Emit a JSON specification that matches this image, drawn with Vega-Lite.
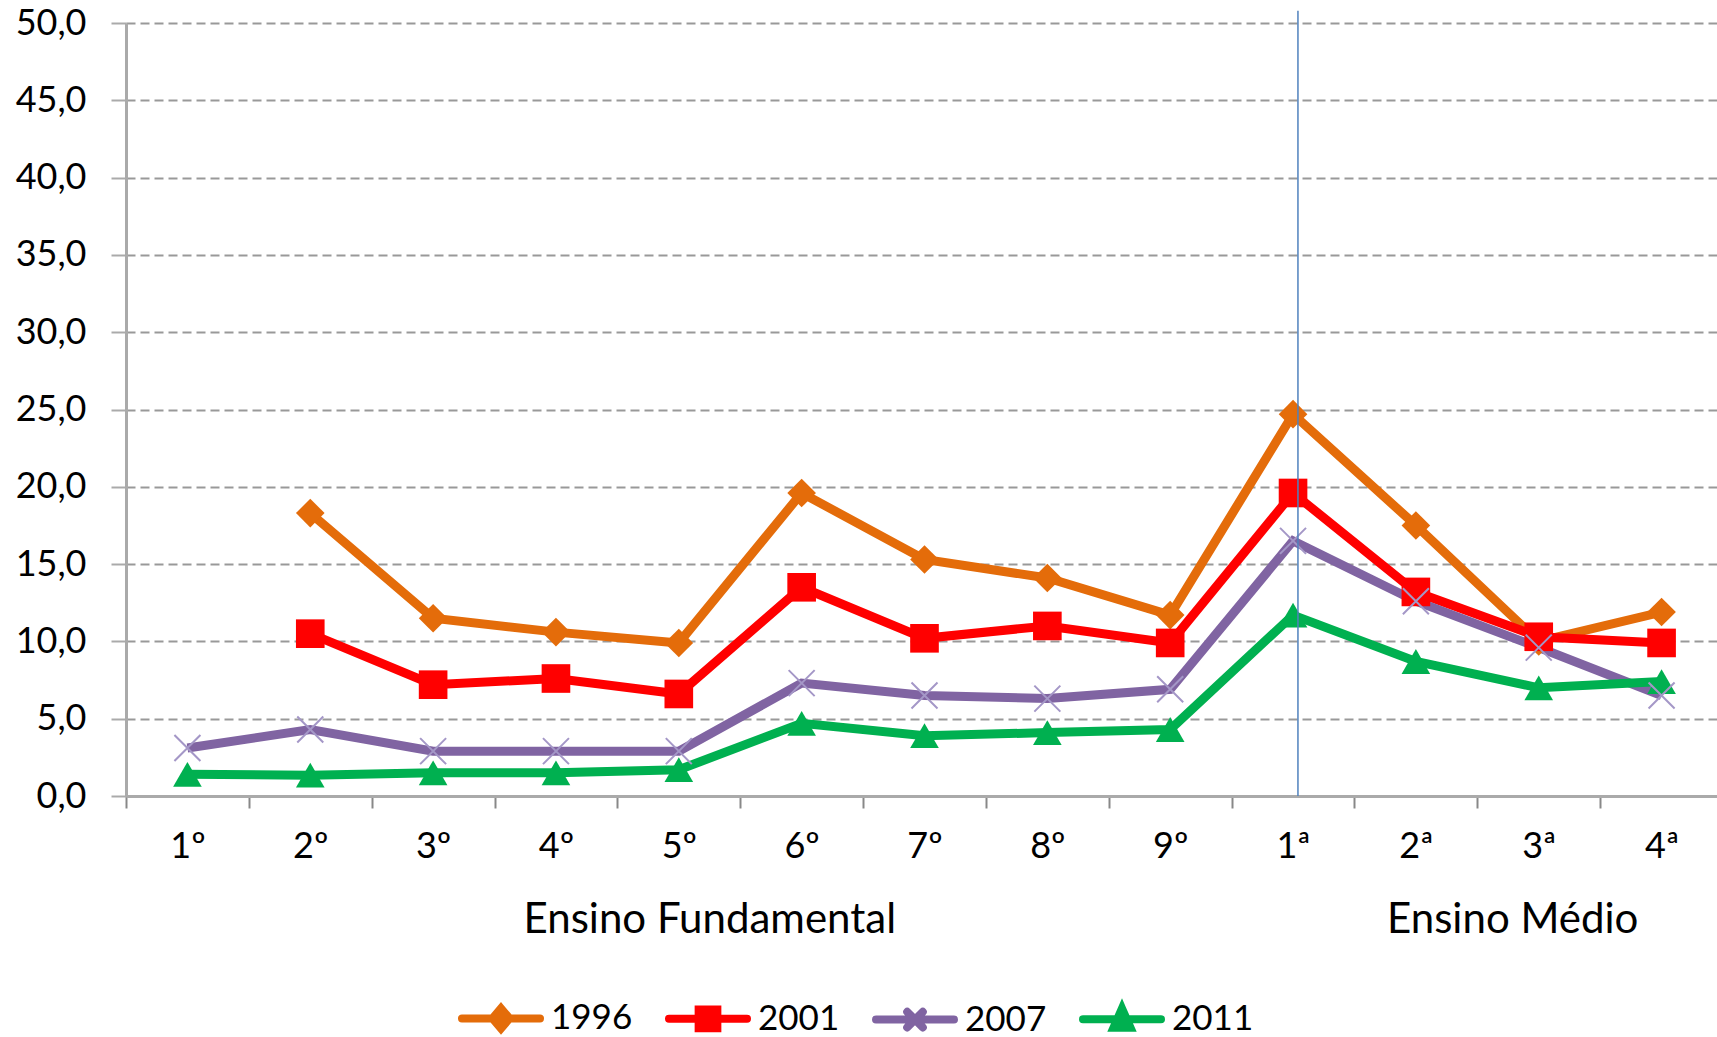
{
  "$schema": "https://vega.github.io/schema/vega-lite/v6.json",
  "width": 1591,
  "height": 773,
  "autosize": "none",
  "padding": {"left": 126, "top": 23, "right": 0, "bottom": 241},
  "background": "white",
  "config": {
    "font": "Lato",
    "view": {"stroke": null},
    "axis": {"labelFont": "Lato", "labelColor": "#000", "labelFontSize": 36},
    "legend": {"labelFont": "Lato"}
  },
  "datasets": {
    "series": [
      {"grade": "2º", "year": "1996", "value": 18.3},
      {"grade": "3º", "year": "1996", "value": 11.5},
      {"grade": "4º", "year": "1996", "value": 10.6},
      {"grade": "5º", "year": "1996", "value": 9.9},
      {"grade": "6º", "year": "1996", "value": 19.6},
      {"grade": "7º", "year": "1996", "value": 15.3},
      {"grade": "8º", "year": "1996", "value": 14.1},
      {"grade": "9º", "year": "1996", "value": 11.7},
      {"grade": "1ª", "year": "1996", "value": 24.7},
      {"grade": "2ª", "year": "1996", "value": 17.5},
      {"grade": "3ª", "year": "1996", "value": 10.0},
      {"grade": "4ª", "year": "1996", "value": 11.9},
      {"grade": "2º", "year": "2001", "value": 10.5},
      {"grade": "3º", "year": "2001", "value": 7.2},
      {"grade": "4º", "year": "2001", "value": 7.6},
      {"grade": "5º", "year": "2001", "value": 6.6},
      {"grade": "6º", "year": "2001", "value": 13.5},
      {"grade": "7º", "year": "2001", "value": 10.2},
      {"grade": "8º", "year": "2001", "value": 11.0},
      {"grade": "9º", "year": "2001", "value": 9.9},
      {"grade": "1ª", "year": "2001", "value": 19.6},
      {"grade": "2ª", "year": "2001", "value": 13.2},
      {"grade": "3ª", "year": "2001", "value": 10.3},
      {"grade": "4ª", "year": "2001", "value": 9.9},
      {"grade": "1º", "year": "2007", "value": 3.1},
      {"grade": "2º", "year": "2007", "value": 4.3},
      {"grade": "3º", "year": "2007", "value": 2.9},
      {"grade": "4º", "year": "2007", "value": 2.9},
      {"grade": "5º", "year": "2007", "value": 2.9},
      {"grade": "6º", "year": "2007", "value": 7.3},
      {"grade": "7º", "year": "2007", "value": 6.5},
      {"grade": "8º", "year": "2007", "value": 6.3},
      {"grade": "9º", "year": "2007", "value": 6.9},
      {"grade": "1ª", "year": "2007", "value": 16.5},
      {"grade": "2ª", "year": "2007", "value": 12.6},
      {"grade": "3ª", "year": "2007", "value": 9.6},
      {"grade": "4ª", "year": "2007", "value": 6.5},
      {"grade": "1º", "year": "2011", "value": 1.4},
      {"grade": "2º", "year": "2011", "value": 1.35},
      {"grade": "3º", "year": "2011", "value": 1.5},
      {"grade": "4º", "year": "2011", "value": 1.5},
      {"grade": "5º", "year": "2011", "value": 1.7},
      {"grade": "6º", "year": "2011", "value": 4.7},
      {"grade": "7º", "year": "2011", "value": 3.9},
      {"grade": "8º", "year": "2011", "value": 4.1},
      {"grade": "9º", "year": "2011", "value": 4.3},
      {"grade": "1ª", "year": "2011", "value": 11.7},
      {"grade": "2ª", "year": "2011", "value": 8.7},
      {"grade": "3ª", "year": "2011", "value": 7.0},
      {"grade": "4ª", "year": "2011", "value": 7.4}
    ]
  },
  "layer": [
    {
      "data": {"name": "series"},
      "mark": {"type": "line", "strokeWidth": 9},
      "encoding": {
        "x": {
          "field": "grade", "type": "ordinal", "bandPosition": 0.5,
          "scale": {"type": "band", "domain": ["1º","2º","3º","4º","5º","6º","7º","8º","9º","1ª","2ª","3ª","4ª"], "range": [0, 1597], "paddingInner": 0, "paddingOuter": 0},
          "axis": {"title": null, "tickBand": "extent", "domainColor": "#aaaaaa", "domainWidth": 3, "tickColor": "#888888", "tickWidth": 2, "tickSize": 12, "labelPadding": 21, "labelAngle": 0, "grid": false, "labelFontSize": 36, "labelColor": "#000"}
        },
        "y": {
          "field": "value", "type": "quantitative",
          "scale": {"domain": [0, 50], "nice": false},
          "axis": {"title": null, "values": [0,5,10,15,20,25,30,35,40,45,50], "labelExpr": "replace(format(datum.value, '.1f'), '.', ',')", "domainColor": "#aaaaaa", "domainWidth": 3, "tickColor": "#aaaaaa", "tickWidth": 2, "tickSize": 15, "labelPadding": 25, "grid": true, "gridColor": "#999999", "gridDash": [9, 5], "gridWidth": 2, "labelFontSize": 36, "labelColor": "#000"}
        },
        "color": {
          "field": "year", "type": "nominal",
          "scale": {"domain": ["1996","2001","2007","2011"], "range": ["#E46C0A","#FF0000","#8064A2","#00B050"]},
          "legend": {
            "title": null, "orient": "none", "legendX": 332, "legendY": 952, "direction": "horizontal",
            "symbolSize": 6084, "symbolStrokeWidth": 8, "labelFontSize": 35, "labelOffset": 7, "columnPadding": 20, "padding": 0, "labelColor": "#000",
            "encode": {
              "symbols": {
                "update": {
                  "shape": {"signal": "datum.value == '1996' ? 'M-1,0H1M0,-0.26L0.22,0L0,0.26L-0.22,0Z' : datum.value == '2001' ? 'M-1,0H1M-0.24,-0.24H0.24V0.24H-0.24Z' : datum.value == '2011' ? 'M-1,0H1M0,-0.28L0.22,0.22L-0.22,0.22Z' : 'M-1,0H1M-0.2,-0.2L0.2,0.2M-0.2,0.2L0.2,-0.2'"},
                  "fill": {"scale": "color", "field": "value"},
                  "stroke": {"scale": "color", "field": "value"},
                  "strokeWidth": {"value": 8},
                  "strokeCap": {"value": "round"},
                  "opacity": {"value": 1}
                }
              }
            }
          }
        },
        "order": {"value": null}
      }
    },
    {
      "data": {"name": "series"},
      "transform": [{"filter": "datum.year != '2007'"}],
      "mark": {"type": "point", "filled": true, "size": 820, "opacity": 1, "strokeWidth": 1},
      "encoding": {
        "x": {"field": "grade", "type": "ordinal", "bandPosition": 0.5},
        "y": {"field": "value", "type": "quantitative"},
        "color": {"field": "year", "type": "nominal"},
        "shape": {"field": "year", "type": "nominal", "scale": {"domain": ["1996","2001","2011"], "range": ["diamond","square","triangle-up"]}, "legend": null}
      }
    },
    {
      "data": {"name": "series"},
      "transform": [{"filter": "datum.year == '2007'"}],
      "mark": {"type": "point", "shape": "M-1,-1L1,1M-1,1L1,-1", "size": 676, "filled": false, "stroke": "#a497c7", "strokeWidth": 2, "opacity": 1},
      "encoding": {
        "x": {"field": "grade", "type": "ordinal", "bandPosition": 0.5},
        "y": {"field": "value", "type": "quantitative"}
      }
    },
    {
      "data": {"values": [{}]},
      "mark": {"type": "rule", "color": "#4F81BD", "strokeWidth": 1.5},
      "encoding": {
        "x": {"datum": "1ª", "bandPosition": 0.54},
        "y": {"datum": 50.8},
        "y2": {"datum": 0}
      }
    },
    {
      "data": {"values": [{"grade": "5º", "label": "Ensino Fundamental"}]},
      "mark": {"type": "text", "fontSize": 42, "dx": 31, "color": "#000", "baseline": "middle"},
      "encoding": {
        "x": {"field": "grade", "type": "ordinal", "bandPosition": 0.5},
        "y": {"datum": -8},
        "text": {"field": "label"}
      }
    },
    {
      "data": {"values": [{"grade": "3ª", "label": "Ensino Médio"}]},
      "mark": {"type": "text", "fontSize": 42, "dx": -26, "color": "#000", "baseline": "middle"},
      "encoding": {
        "x": {"field": "grade", "type": "ordinal", "bandPosition": 0.5},
        "y": {"datum": -8},
        "text": {"field": "label"}
      }
    }
  ]
}
